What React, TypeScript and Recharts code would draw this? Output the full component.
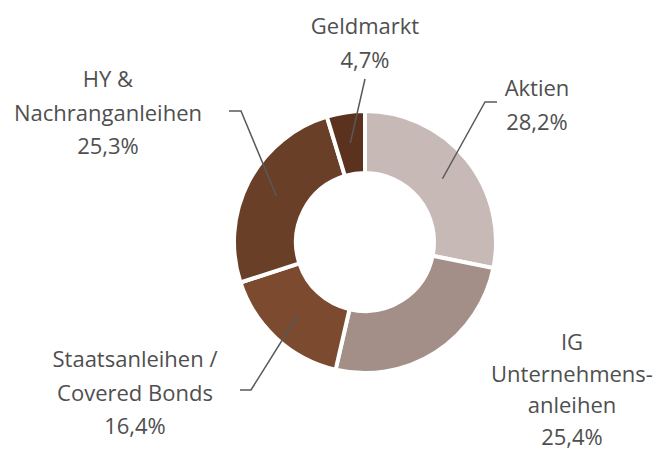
import { Pie, PieChart, Cell } from "recharts";

const categories = [
  "Aktien",
  "IG\nUnternehmens-\nanleihen",
  "Staatsanleihen /\nCovered Bonds",
  "HY &\nNachranganleihen",
  "Geldmarkt",
];
const shares = [28.2, 25.4, 16.4, 25.3, 4.7];
const colors = ["#C6B9B6", "#A48F88", "#7B4A2F", "#6A3F27", "#5A321D"];

const data = categories.map((name, i) => ({ name, value: shares[i] }));

// label block placement relative to pie centre (x of text centre, y of first line)
// plus optional leader-line elbow and end
const labelLayout: Record<
  string,
  { dx: number; dy: number; lh?: number; elbow?: [number, number]; end?: [number, number] }
> = {
  Aktien: { dx: 172, dy: -155, elbow: [120, -140], end: [132, -140] },
  "IG\nUnternehmens-\nanleihen": { dx: 207, dy: 99, lh: 31.5 },
  "Staatsanleihen /\nCovered Bonds": { dx: -230, dy: 116, elbow: [-114, 148], end: [-125, 148] },
  "HY &\nNachranganleihen": { dx: -257, dy: -164, elbow: [-124, -131], end: [-136, -131] },
  Geldmarkt: { dx: 0, dy: -217, elbow: [0, -163] },
};

const RAD = Math.PI / 180;
const LINE_H = 33.5;

function fmt(v: number) {
  return `${v.toFixed(1).replace(".", ",")}%`;
}

function renderLabel(props: any) {
  const { cx, cy, midAngle, innerRadius, outerRadius, name, value } = props;
  const lay = labelLayout[name];
  if (!lay) return null;
  const lines = [...String(name).split("\n"), fmt(value)];
  const lh = lay.lh ?? LINE_H;
  const r = (innerRadius + outerRadius) / 2;
  const sx = cx + r * Math.cos(-midAngle * RAD);
  const sy = cy + r * Math.sin(-midAngle * RAD);
  let pts = "";
  if (lay.elbow) {
    pts = `${sx},${sy} ${cx + lay.elbow[0]},${cy + lay.elbow[1]}`;
    if (lay.end) pts += ` ${cx + lay.end[0]},${cy + lay.end[1]}`;
  }
  return (
    <g>
      {pts && <polyline points={pts} fill="none" stroke="#595959" strokeWidth={1.5} />}
      {lines.map((t, i) => (
        <text
          key={i}
          x={cx + lay.dx}
          y={cy + lay.dy + i * lh}
          textAnchor="middle"
          dominantBaseline="central"
          fill="#4F4F4F"
          fontSize={22}
          fontFamily="'Open Sans', sans-serif"
        >
          {t}
        </text>
      ))}
    </g>
  );
}

export default function App() {
  return (
    <div style={{ position: "absolute", left: 0, top: 0, width: 657, height: 450, background: "#fff" }}>
      <PieChart width={657} height={450} margin={{ top: 0, right: 0, bottom: 0, left: 0 }}>
        <Pie
          data={data}
          dataKey="value"
          nameKey="name"
          cx={365}
          cy={242}
          innerRadius={69}
          outerRadius={131}
          startAngle={90}
          endAngle={-270}
          stroke="#fff"
          strokeWidth={4}
          label={renderLabel}
          labelLine={false}
          isAnimationActive={false}
        >
          {data.map((d, i) => (
            <Cell key={d.name} fill={colors[i]} />
          ))}
        </Pie>
      </PieChart>
    </div>
  );
}
